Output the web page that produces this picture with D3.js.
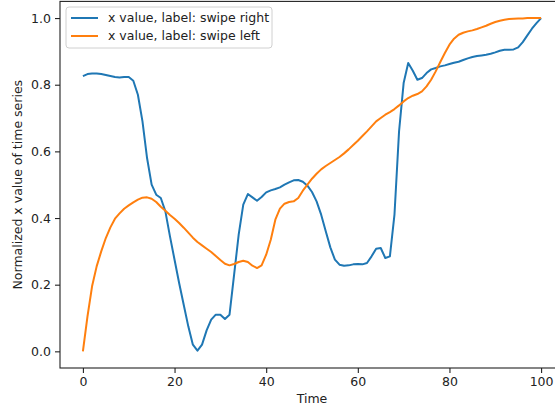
<!DOCTYPE html>
<html>
<head>
<meta charset="utf-8">
<script src="https://cdn.jsdelivr.net/npm/d3@7"></script>
<style>
  body { margin: 0; background: #fff; }
  svg { display: block; font-family: "DejaVu Sans", sans-serif; }
</style>
</head>
<body>
<div class="chart"></div>
<script>
// time steps 0..100
const times = d3.range(0, 101);

// swipe right, x value
const swipeRight = [
  0.826, 0.832, 0.834, 0.834, 0.832, 0.829, 0.826, 0.823, 0.822, 0.823,
  0.823, 0.812, 0.770, 0.690, 0.580, 0.500, 0.470, 0.460, 0.420, 0.345,
  0.275, 0.205, 0.140, 0.075, 0.020, 0.002, 0.020, 0.063, 0.095, 0.110,
  0.110, 0.097, 0.110, 0.230, 0.350, 0.440, 0.472, 0.462, 0.452, 0.463,
  0.477, 0.483, 0.487, 0.492, 0.500, 0.507, 0.513, 0.514, 0.509, 0.497,
  0.478, 0.450, 0.410, 0.360, 0.312, 0.275, 0.260, 0.257, 0.258, 0.261,
  0.262, 0.261, 0.265, 0.285, 0.308, 0.310, 0.280, 0.285, 0.410, 0.660,
  0.805, 0.865, 0.842, 0.815, 0.820, 0.835, 0.846, 0.850, 0.855, 0.858,
  0.862, 0.866, 0.869, 0.874, 0.879, 0.883, 0.886, 0.888, 0.890, 0.893,
  0.897, 0.902, 0.905, 0.905, 0.906, 0.912, 0.928, 0.948, 0.968, 0.985,
  1.000
];

// swipe left
const swipeLeft = [
  0.000, 0.105, 0.195, 0.255, 0.300, 0.340, 0.372, 0.398, 0.414, 0.428,
  0.438, 0.447, 0.455, 0.461, 0.462, 0.458, 0.448, 0.434, 0.422, 0.409,
  0.398, 0.385, 0.371, 0.356, 0.341, 0.328, 0.318, 0.308, 0.298, 0.286,
  0.274, 0.263, 0.258, 0.262, 0.268, 0.272, 0.268, 0.257, 0.250, 0.258,
  0.290, 0.335, 0.395, 0.428, 0.443, 0.448, 0.450, 0.460, 0.482, 0.500,
  0.518, 0.533, 0.546, 0.556, 0.565, 0.574, 0.583, 0.594, 0.606, 0.619,
  0.632, 0.646, 0.660, 0.675, 0.690, 0.700, 0.710, 0.718, 0.727, 0.738,
  0.750, 0.760, 0.767, 0.772, 0.780, 0.795, 0.815, 0.840, 0.868, 0.895,
  0.920, 0.938, 0.950, 0.956, 0.960, 0.963, 0.967, 0.972, 0.977, 0.983,
  0.988, 0.992, 0.995, 0.997, 0.998, 0.999, 0.999, 1.000, 1.000, 1.000,
  1.000
];

const seriesNames = ['x value, label: swipe right', 'x value, label: swipe left'];
const seriesColors = ['#1f77b4', '#ff7f0e'];
const xTicks = [0, 20, 40, 60, 80, 100];
const yTicks = [0.0, 0.2, 0.4, 0.6, 0.8, 1.0];

const width = 555, height = 410;
// axes box (the right edge runs past the picture, like the original crop)
const box = {left: 60, right: 564, top: 1.4, bottom: 368};

const svg = d3.select('.chart').append('svg')
  .attr('width', width).attr('height', height);

// matplotlib-like 5% margins
const xScale = d3.scaleLinear().domain([-5, 105]).range([box.left, box.right]);
const yScale = d3.scaleLinear().domain([-0.05, 1.05]).range([box.bottom, box.top]);

const series = [swipeRight, swipeLeft].map((vals, i) => ({
  name: seriesNames[i],
  color: seriesColors[i],
  values: vals.map((v, j) => ({t: times[j], v: v}))
}));

const lineGen = d3.line().x(d => xScale(d.t)).y(d => yScale(d.v));

svg.append('defs').append('clipPath').attr('id', 'clip')
  .append('rect')
  .attr('x', box.left).attr('y', box.top)
  .attr('width', box.right - box.left).attr('height', box.bottom - box.top);

svg.append('g').attr('clip-path', 'url(#clip)')
  .selectAll('path').data(series).enter()
  .append('path')
  .attr('d', d => lineGen(d.values))
  .style('fill', 'none')
  .style('stroke', d => d.color)
  .style('stroke-width', 2)
  .style('stroke-linejoin', 'round')
  .style('stroke-linecap', 'butt');

// axes
const fontSize = 12.5;
const xAxis = d3.axisBottom(xScale).tickValues(xTicks).tickFormat(d3.format('d'))
  .tickSizeInner(5).tickSizeOuter(0).tickPadding(4);
const xAxisDraw = svg.append('g')
  .attr('transform', `translate(0,${box.bottom})`)
  .call(xAxis);

const yAxis = d3.axisLeft(yScale).tickValues(yTicks).tickFormat(d3.format('.1f'))
  .tickSizeInner(5).tickSizeOuter(0).tickPadding(4);
const yAxisDraw = svg.append('g')
  .attr('transform', `translate(${box.left},0)`)
  .call(yAxis);

[xAxisDraw, yAxisDraw].forEach(a => {
  a.select('.domain').remove();
  a.selectAll('.tick line').style('stroke', '#222').style('stroke-width', 1.1);
  a.selectAll('.tick text')
    .style('font-family', '"DejaVu Sans", sans-serif')
    .style('font-size', fontSize + 'px')
    .style('fill', '#222');
});

// frame
svg.append('rect')
  .attr('x', box.left).attr('y', box.top)
  .attr('width', box.right - box.left).attr('height', box.bottom - box.top)
  .style('fill', 'none').style('stroke', '#222').style('stroke-width', 1.1);

// axis titles
svg.append('text')
  .attr('x', (box.left + box.right) / 2).attr('y', 403)
  .attr('text-anchor', 'middle')
  .style('font-size', fontSize + 'px').style('fill', '#222')
  .text('Time');

svg.append('text')
  .attr('transform', `translate(22,${(box.top + box.bottom) / 2}) rotate(-90)`)
  .attr('text-anchor', 'middle')
  .style('font-size', fontSize + 'px').style('fill', '#222')
  .text('Normalized x value of time series');

// legend
const legend = svg.append('g').attr('transform', 'translate(66,7)');
legend.append('rect')
  .attr('width', 206).attr('height', 41).attr('rx', 3)
  .style('fill', '#fff').style('fill-opacity', 0.8)
  .style('stroke', '#d0d0d0').style('stroke-width', 1);
const items = legend.selectAll('.item').data(series).enter()
  .append('g').attr('class', 'item')
  .attr('transform', (d, i) => `translate(0,${11 + i * 18})`);
items.append('line')
  .attr('x1', 5).attr('x2', 32).attr('y1', 0).attr('y2', 0)
  .style('stroke', d => d.color).style('stroke-width', 2);
items.append('text')
  .attr('x', 42).attr('y', 0).attr('dy', '0.35em')
  .style('font-size', fontSize + 'px').style('fill', '#222')
  .text(d => d.name);
</script>
</body>
</html>
